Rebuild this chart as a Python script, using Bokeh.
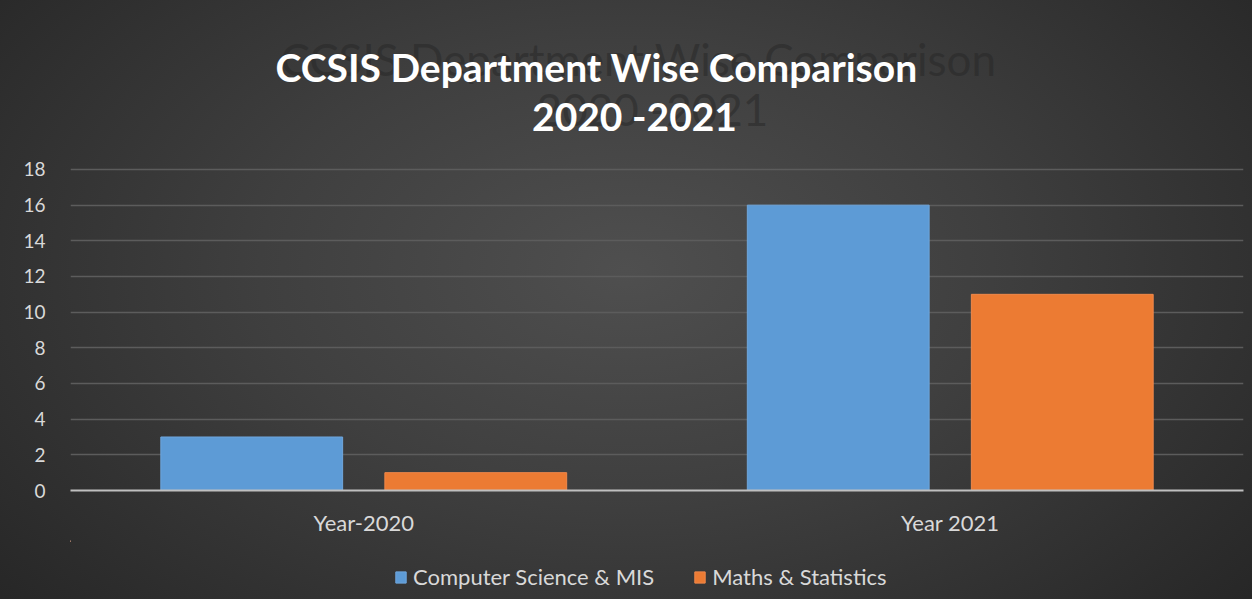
from bokeh.plotting import figure
from bokeh.models import (FactorRange, Range1d, ColumnDataSource, Label, FixedTicker, Legend,
                          LegendItem)
from bokeh.layouts import column
from bokeh.transform import dodge
from bokeh.embed import file_html
from bokeh.resources import INLINE

categories = ["Year-2020", "Year 2021"]
cs_mis = [3, 16]
maths_stats = [1, 11]
series_names = ["Computer Science & MIS", "Maths & Statistics"]
y_ticks = [0, 2, 4, 6, 8, 10, 12, 14, 16, 18]
title_line1 = "CCSIS Department Wise Comparison"
title_line2 = "2020 -2021"

W = 1252
FL, FR = 70, 1243               # plot frame left / right (shared by the column)
H0, H1, H2 = 140, 400, 59       # title strip, chart, legend strip
FONT = "Lato"
blue = "#5d9bd6"
orange = "#ec7b33"


def bare(h):
    f = figure(width=W, height=h, output_backend="svg", toolbar_location=None, title=None,
               x_range=Range1d(FL, FR), y_range=Range1d(h, 0),
               x_axis_type=None, y_axis_type=None,
               min_border=0, min_border_left=0, min_border_right=0,
               min_border_top=0, min_border_bottom=0)
    f.grid.visible = False
    f.border_fill_color = None
    f.background_fill_color = None
    f.outline_line_color = None
    return f


# ---- title strip ----
p0 = bare(H0)
DY = 16


def lbl(text, x, y, size, color, style="bold", alpha=1.0):
    p0.add_layout(Label(x=x, y=y - DY, text=text, text_align="center",
                        text_baseline="alphabetic", text_font=FONT, text_font_style=style,
                        text_font_size=size, text_color=color, text_alpha=alpha))


lbl(title_line1, 638, 74, "44px", "#262626", style="normal", alpha=0.5)
lbl(title_line2, 652, 124, "44px", "#262626", style="normal", alpha=0.5)
lbl(title_line1, 596, 82, "39px", "#ffffff")
lbl(title_line2, 634, 131, "39px", "#ffffff")

# ---- chart ----
src = ColumnDataSource(dict(cat=categories, cs=cs_mis, ms=maths_stats))
p = figure(width=W, height=H1, output_backend="svg", toolbar_location=None,
           x_range=FactorRange(factors=categories, range_padding=0),
           y_range=Range1d(0, 18.112),
           min_border_left=FL, min_border_right=W - FR, min_border_top=27, min_border_bottom=50)
p.border_fill_color = None
p.background_fill_color = None
p.outline_line_color = None

r1 = p.vbar(x=dodge("cat", -0.191, range=p.x_range), top="cs", width=0.31, source=src,
            fill_color=blue, line_color="#6fa6dc", line_width=1)
r2 = p.vbar(x=dodge("cat", 0.191, range=p.x_range), top="ms", width=0.31, source=src,
            fill_color=orange, line_color="#f0884a", line_width=1)

p.yaxis.ticker = FixedTicker(ticks=y_ticks)
p.yaxis.axis_line_color = None
p.yaxis.major_tick_line_color = None
p.yaxis.minor_tick_line_color = None
p.yaxis.major_label_text_font = FONT
p.yaxis.major_label_text_font_size = "19px"
p.yaxis.major_label_text_color = "#d9d9d9"
p.yaxis.major_label_standoff = 19

p.xaxis.axis_line_color = "#bfbfbf"
p.xaxis.axis_line_width = 2
p.xaxis.major_tick_line_color = None
p.xaxis.minor_tick_line_color = None
p.xaxis.major_label_text_font = FONT
p.xaxis.major_label_text_font_size = "22px"
p.xaxis.major_label_standoff = 12
p.xaxis.major_label_text_color = "#d9d9d9"

p.xgrid.grid_line_color = None
p.ygrid.grid_line_color = "#5c5c5c"
p.ygrid.grid_line_width = 1.5

# ---- legend strip ----
p2 = bare(H2)
# proxy renderers (outside the visible range) that only supply the legend swatches
proxy = ColumnDataSource(dict(x=[-100], top=[1]))
g1 = p2.vbar(x="x", top="top", width=1, source=proxy, fill_color=blue, line_color="#6fa6dc")
g2 = p2.vbar(x="x", top="top", width=1, source=proxy, fill_color=orange, line_color="#f0884a")
legend = Legend(items=[LegendItem(label=series_names[0], renderers=[g1]),
                       LegendItem(label=series_names[1], renderers=[g2])],
                orientation="horizontal", location=(394 - FL, 9),
                background_fill_alpha=0, border_line_color=None,
                label_text_font=FONT, label_text_font_size="22px", label_text_color="#d9d9d9",
                glyph_width=13, glyph_height=14, label_standoff=6, spacing=39,
                padding=0, margin=0)
p2.add_layout(legend, "center")

layout = column(p0, p, p2, spacing=0)
layout.styles = {"background": "radial-gradient(ellipse 65% 85% at 50% 45%, #4f4f4f 0%, #3f3f3f 45%, #272727 100%)"}

open("out.html", "w").write(file_html(layout, INLINE))
